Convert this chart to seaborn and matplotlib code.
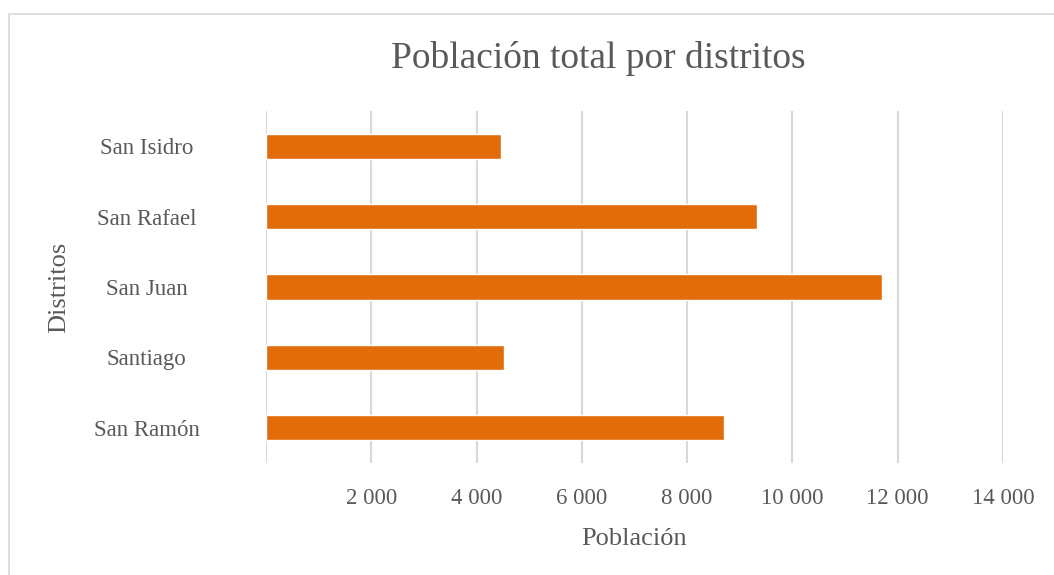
import matplotlib
matplotlib.use("Agg")
import matplotlib.pyplot as plt
import seaborn as sns
import pandas as pd
from matplotlib.patches import Rectangle

# Data
distritos = ["San Isidro", "San Rafael", "San Juan", "Santiago", "San Ramón"]
poblacion = [4460, 9320, 11700, 4530, 8700]
x_ticks = [2000, 4000, 6000, 8000, 10000, 12000, 14000]
x_tick_labels = ["2 000", "4 000", "6 000", "8 000", "10 000", "12 000", "14 000"]

df = pd.DataFrame({"Distritos": distritos, "Población": poblacion})

sns.set_style("white")
plt.rcParams['font.family'] = ['Liberation Serif', 'DejaVu Serif']
text_color = "#595959"
grid_color = "#d9d9d9"

fig = plt.figure(figsize=(10.54, 5.75), dpi=100)
ax = fig.add_axes([266 / 1054, 1 - 463 / 575, (1003 - 266) / 1054, (463 - 111) / 575])

sns.barplot(data=df, x="Población", y="Distritos", orient="h", color="#E36C0A",
            saturation=1, width=0.36, ax=ax)

ax.set_xlim(0, 14000)
ax.set_ylim(4.5, -0.5)
ax.set_xticks(x_ticks)
ax.set_xticklabels(x_tick_labels)
ax.xaxis.grid(True, color=grid_color, linewidth=1.5)
ax.axvline(0, color=grid_color, linewidth=1.5, zorder=0)
ax.set_axisbelow(True)
for s in ax.spines.values():
    s.set_visible(False)

ax.tick_params(axis="x", length=0, pad=18, labelsize=16.5, labelcolor=text_color)
ax.tick_params(axis="y", length=0, pad=86, labelsize=16.5, labelcolor=text_color)
for lbl in ax.get_yticklabels():
    lbl.set_horizontalalignment("center")

ax.set_xlabel("Población", fontsize=19, color=text_color, labelpad=14)
ax.set_ylabel("Distritos", fontsize=19, color=text_color)
ax.yaxis.set_label_coords(-(266 - 70) / 737, 0.5)

fig.text(598 / 1054, 1 - 58 / 575, "Población total por distritos", ha="center", va="center",
         fontsize=27, color=text_color)

# chart border
fig.patches.append(Rectangle((9 / 1054, -0.1), 1.2, 1 - 14 / 575 + 0.1, transform=fig.transFigure,
                             fill=False, edgecolor=grid_color, linewidth=1.2))

fig.savefig("out.png", dpi=100)
plt.close(fig)
